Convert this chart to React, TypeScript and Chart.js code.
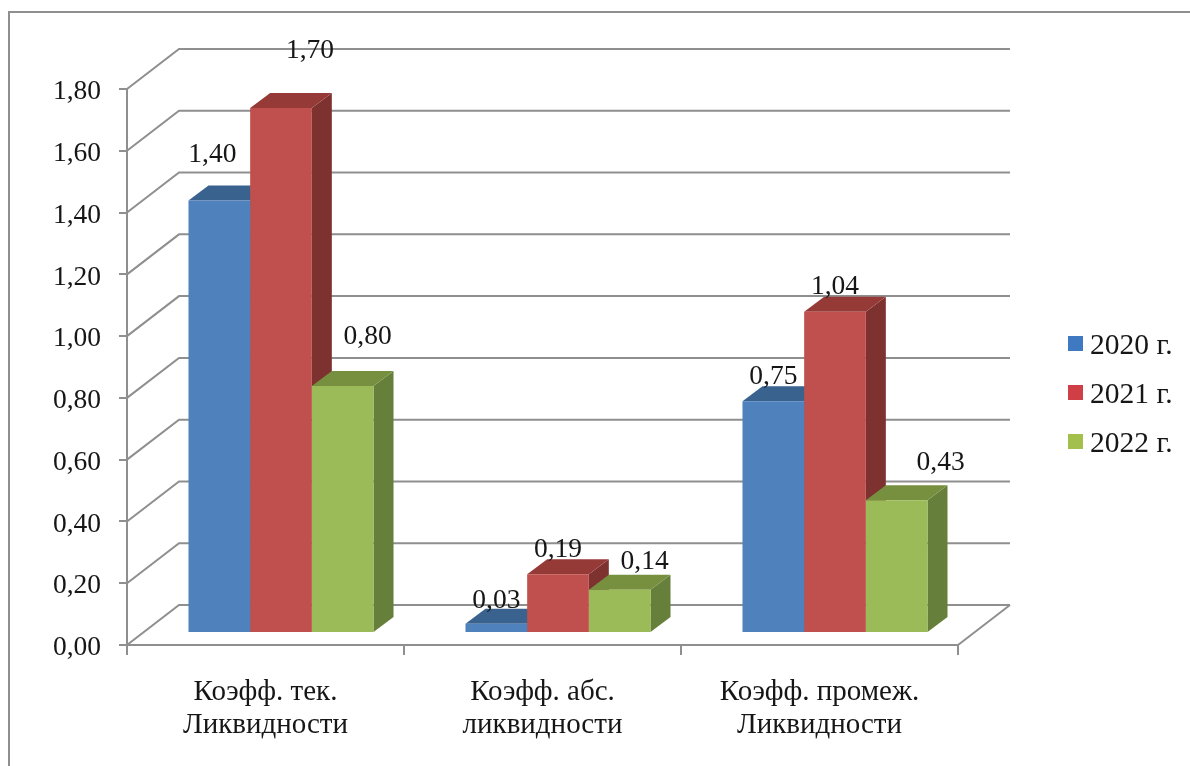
import { useEffect, useRef } from "react";
import { Chart, registerables } from "chart.js";

Chart.register(...registerables);

const categories = [
  ["Коэфф. тек.", "Ликвидности"],
  ["Коэфф. абс.", "ликвидности"],
  ["Коэфф. промеж.", "Ликвидности"],
];
const seriesNames = ["2020 г.", "2021 г.", "2022 г."];
const values2020 = [1.4, 0.03, 0.75];
const values2021 = [1.7, 0.19, 1.04];
const values2022 = [0.8, 0.14, 0.43];

// Fill colours for each series: front, top and side faces.
const frontColors = ["#4f81bd", "#c0504d", "#9bbb59"];
const topColors = ["#39628f", "#963a38", "#76903f"];
const sideColors = ["#345a85", "#7d3230", "#667f3a"];
const swatchColors = ["#3f79c2", "#cf3f45", "#a3bf4c"];

// Hand-placed value labels, as offsets from the top centre of each bar.
const labelOffsets = [
  [[-7, -46], [0, -23], [0, -25]],
  [[29, -57], [0, -25], [0, -25]],
  [[25, -49], [25, -28], [44, -37]],
];

const FONT = "'Liberation Serif', 'Times New Roman', serif";
const GRID = "#8f8f8f";
const INK = "#161616";
const WALL_DX = 52;
const WALL_DY = 40;
const BAR_SHIFT_X = 15.5;
const BAR_SHIFT_Y = 12;
const DEPTH_DX = 20;
const DEPTH_DY = 15;

const formatValue = (v: number) => v.toFixed(2).replace(".", ",");

const polygon = (ctx: CanvasRenderingContext2D, pts: number[][], fill: string) => {
  ctx.beginPath();
  pts.forEach(([x, y], i) => (i ? ctx.lineTo(x, y) : ctx.moveTo(x, y)));
  ctx.closePath();
  ctx.fillStyle = fill;
  ctx.fill();
};

// Back wall, floor, and the extruded faces behind each bar.
const depthPlugin = {
  id: "depth",
  beforeDraw(chart: any) {
    const { ctx } = chart;
    ctx.save();
    ctx.strokeStyle = GRID;
    ctx.lineWidth = 2;
    ctx.beginPath();
    ctx.moveTo(9, 766);
    ctx.lineTo(9, 12);
    ctx.lineTo(1190, 12);
    ctx.stroke();
    ctx.restore();
  },
  beforeDatasetsDraw(chart: any) {
    const { ctx, scales } = chart;
    const { x: xs, y: ys } = scales;
    ctx.save();
    ctx.strokeStyle = GRID;
    ctx.lineWidth = 2;
    ys.ticks.forEach((t: any) => {
      const py = ys.getPixelForValue(t.value);
      ctx.beginPath();
      ctx.moveTo(xs.left, py);
      ctx.lineTo(xs.left + WALL_DX, py - WALL_DY);
      ctx.lineTo(xs.right + WALL_DX, py - WALL_DY);
      ctx.stroke();
    });
    ctx.beginPath();
    ctx.moveTo(xs.right, ys.bottom);
    ctx.lineTo(xs.right + WALL_DX, ys.bottom - WALL_DY);
    ctx.stroke();
    ctx.restore();

    ctx.save();
    ctx.translate(BAR_SHIFT_X, -BAR_SHIFT_Y);
    chart.data.datasets.forEach((_: any, d: number) => {
      chart.getDatasetMeta(d).data.forEach((bar: any) => {
        const { x, y, base, width } = bar.getProps(["x", "y", "base", "width"], true);
        const l = x - width / 2;
        const r = x + width / 2;
        polygon(ctx, [[r, y], [r + DEPTH_DX, y - DEPTH_DY], [r + DEPTH_DX, base - DEPTH_DY], [r, base]], sideColors[d]);
        polygon(ctx, [[l, y], [l + DEPTH_DX, y - DEPTH_DY], [r + DEPTH_DX, y - DEPTH_DY], [r, y]], topColors[d]);
      });
    });
    ctx.restore();

    // Front faces are painted by the bar elements, shifted onto the floor.
    ctx.save();
    ctx.translate(BAR_SHIFT_X, -BAR_SHIFT_Y);
  },
  afterDatasetsDraw(chart: any) {
    const { ctx } = chart;
    ctx.restore();

    ctx.save();
    ctx.font = `27.5px ${FONT}`;
    ctx.fillStyle = INK;
    ctx.textAlign = "center";
    ctx.textBaseline = "middle";
    chart.data.datasets.forEach((ds: any, d: number) => {
      chart.getDatasetMeta(d).data.forEach((bar: any, i: number) => {
        const { x, y } = bar.getProps(["x", "y"], true);
        const [ox, oy] = labelOffsets[d][i];
        ctx.fillText(formatValue(ds.data[i]), x + BAR_SHIFT_X + ox, y - BAR_SHIFT_Y + oy);
      });
    });
    ctx.restore();
  },
  // Legend with a tight gap between swatch and text.
  afterDraw(chart: any) {
    const { ctx } = chart;
    ctx.save();
    ctx.font = `29.5px ${FONT}`;
    ctx.textBaseline = "middle";
    ctx.textAlign = "left";
    chart.data.datasets.forEach((ds: any, d: number) => {
      const cy = 344 + d * 49;
      ctx.fillStyle = swatchColors[d];
      ctx.fillRect(1068, cy - 8, 15, 15);
      ctx.fillStyle = INK;
      ctx.fillText(ds.label, 1090, cy + 2);
    });
    ctx.restore();
  },
};

export default function App() {
  const ref = useRef<HTMLCanvasElement>(null);

  useEffect(() => {
    if (!ref.current) return;
    const groups = [values2020, values2021, values2022];
    const chart = new Chart(ref.current, {
      type: "bar",
      data: {
        labels: categories,
        datasets: seriesNames.map((label, i) => ({
          label,
          data: groups[i],
          backgroundColor: frontColors[i],
          borderWidth: 0,
          clip: false,
          categoryPercentage: 0.668,
          barPercentage: 1,
        })),
      } as any,
      options: {
        responsive: false,
        animation: false,
        layout: { padding: { left: 0, top: 89, right: 232, bottom: 0 } },
        plugins: { legend: { display: false }, tooltip: { enabled: false } },
        font: { family: FONT },
        scales: {
          x: {
            afterFit: (s: any) => {
              s.height = 121;
            },
            border: { color: GRID, width: 2 },
            grid: { offset: true, drawOnChartArea: false, color: GRID, lineWidth: 2, tickLength: 10 },
            ticks: {
              color: INK,
              padding: 21,
              maxRotation: 0,
              autoSkip: false,
              font: { family: FONT, size: 29, lineHeight: 1.13 },
            },
          },
          y: {
            min: 0,
            max: 1.8,
            afterFit: (s: any) => {
              s.width = 127;
            },
            border: { color: GRID, width: 2 },
            grid: { drawOnChartArea: false, color: GRID, lineWidth: 2, tickLength: 8 },
            ticks: {
              stepSize: 0.2,
              color: INK,
              padding: 18,
              labelOffset: 3,
              font: { family: FONT, size: 27.5 },
              callback: (v: any) => formatValue(Number(v)),
            },
          },
        },
      } as any,
      plugins: [depthPlugin],
    });
    return () => chart.destroy();
  }, []);

  return (
    <div style={{ position: "fixed", left: 0, top: 0, width: 1190, height: 766, background: "#fff" }}>
      <canvas ref={ref} width={1190} height={766} style={{ display: "block" }} />
    </div>
  );
}
